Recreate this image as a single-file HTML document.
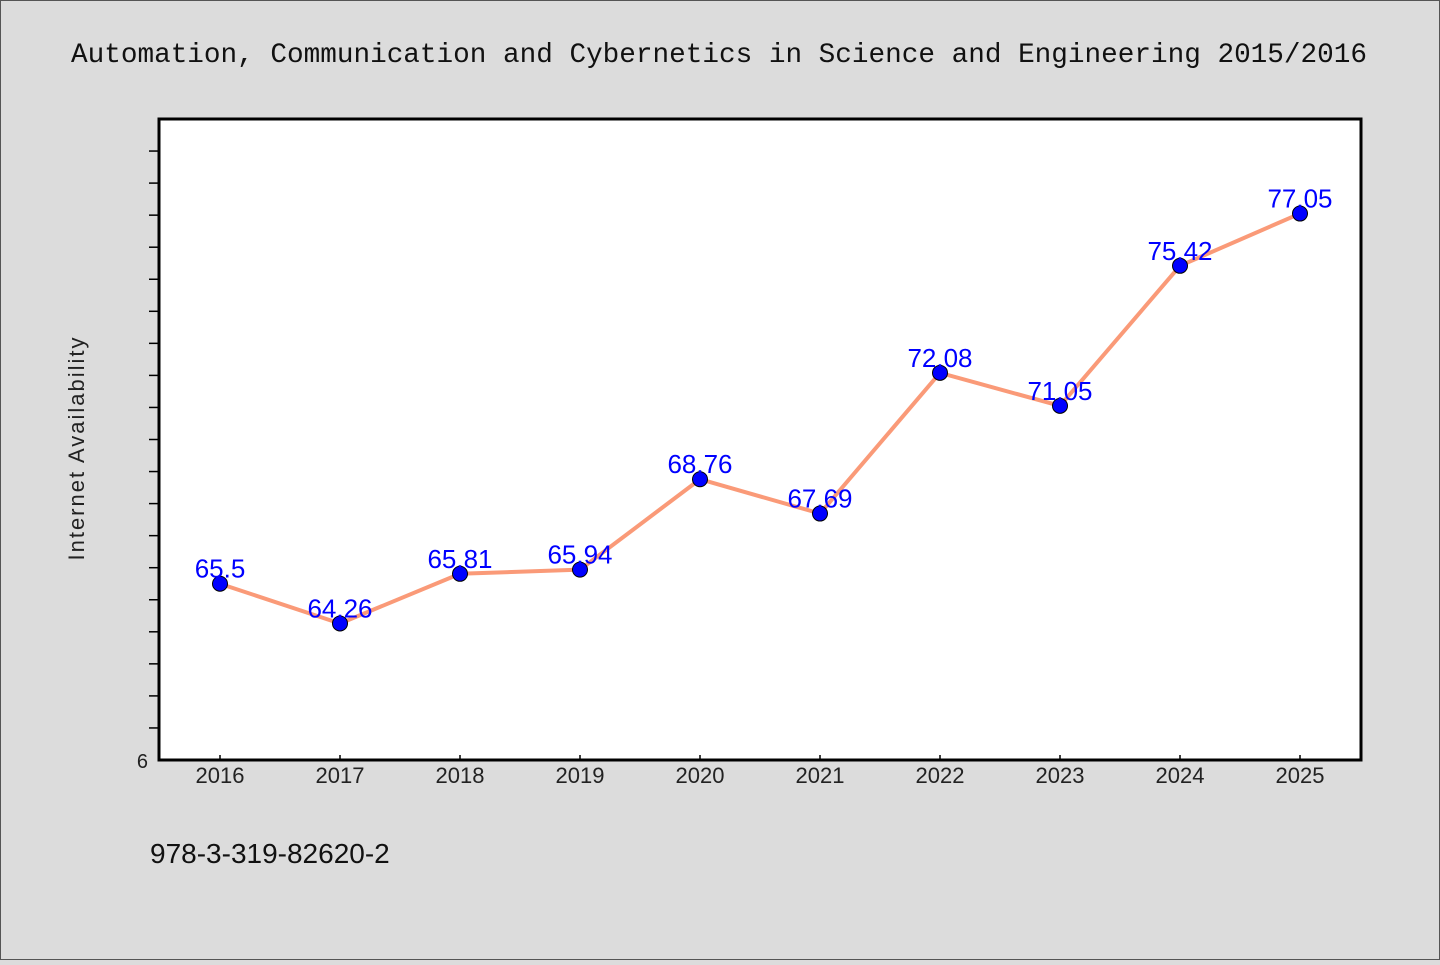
<!DOCTYPE html>
<html><head><meta charset="utf-8"><style>
body{margin:0;background:#dcdcdc;width:1440px;height:960px;overflow:hidden;font-family:"WenQuanYi Zen Hei","Liberation Sans",sans-serif}
</style></head><body>
<svg id="chart" width="1440" height="960" xmlns="http://www.w3.org/2000/svg">
<rect x="0.5" y="0.5" width="1439" height="959" fill="#dcdcdc" stroke="#555"/>
<text x="719" y="62" text-anchor="middle" font-family="'Liberation Mono',monospace" font-size="27.7" fill="#111">Automation, Communication and Cybernetics in Science and Engineering 2015/2016</text>
<rect x="159" y="119" width="1202" height="641" fill="#fff" stroke="#000" stroke-width="3"/>
<text transform="translate(84,448) rotate(-90)" text-anchor="middle" font-size="22" letter-spacing="2" fill="#222">Internet Availability</text>
<text x="148" y="768" text-anchor="end" font-size="20" fill="#222">6</text>
<text x="150" y="863" font-size="28" fill="#111">978-3-319-82620-2</text>
<g id="ticks"></g><g id="series"></g>
</svg>
<script>
const years=["2016","2017","2018","2019","2020","2021","2022","2023","2024","2025"];
const values=[65.5,64.26,65.81,65.94,68.76,67.69,72.08,71.05,75.42,77.05];
const valueLabels=["65.5","64.26","65.81","65.94","68.76","67.69","72.08","71.05","75.42","77.05"];
const yMin=60,yMax=80;
const ns="http://www.w3.org/2000/svg";
const x=i=>220+i*120;
const y=v=>760-(v-yMin)/(yMax-yMin)*641;
function mk(t,a,p){const e=document.createElementNS(ns,t);for(const k in a)e.setAttribute(k,a[k]);p.appendChild(e);return e;}
const tg=document.getElementById('ticks'),sg=document.getElementById('series');
for(let v=yMin+1;v<yMax;v++){
 const t=mk('line',{x1:149,x2:159,y1:y(v),y2:y(v),stroke:'#000','stroke-width':1.5},tg);
 
 
}
years.forEach((yr,i)=>{
 const t=mk('line',{x1:x(i),x2:x(i),y1:755,y2:760,stroke:'#000','stroke-width':1.5},tg);
 
 
 const l=mk('text',{x:x(i),y:783,'text-anchor':'middle','font-size':22,fill:'#222'},tg);
 l.textContent=yr;
 
 
});
const line=mk('polyline',{points:values.map((v,i)=>x(i)+','+y(v)).join(' '),fill:'none',stroke:'#fa9a78','stroke-width':4},sg);


values.forEach((v,i)=>{
 const c=mk('circle',{cx:x(i),cy:y(v),r:7.5,fill:'#0000ff',stroke:'#000','stroke-width':1},sg);
 
 
});
values.forEach((v,i)=>{
 const t=mk('text',{x:x(i),y:y(v)-6,'text-anchor':'middle','font-size':26,fill:'#0000ff'},sg);
 t.textContent=valueLabels[i];
 
 
});
</script>
</body></html>
